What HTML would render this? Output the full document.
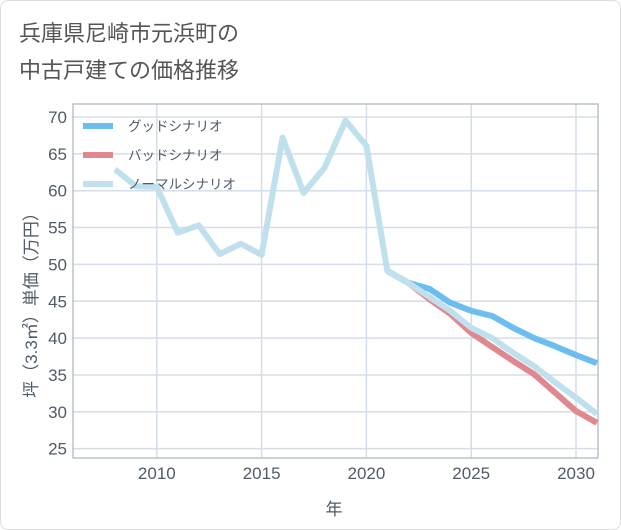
<!DOCTYPE html>
<html><head><meta charset="utf-8"><style>
body{margin:0;background:#fff;}
#card{position:relative;width:619px;height:528px;border:1px solid #ddd;border-radius:8px;background:#fff;overflow:hidden;font-family:"Liberation Sans","Noto Sans CJK JP",sans-serif;}
#title{position:absolute;left:18px;top:14px;font-size:22px;line-height:37px;color:#555;}
svg{position:absolute;left:0;top:0;}
</style></head><body>
<div id="card">
<div id="title">兵庫県尼崎市元浜町の<br>中古戸建ての価格推移</div>
<svg id="chart" width="621" height="530"></svg>
</div>
<script>
const years=[2008,2009,2010,2011,2012,2013,2014,2015,2016,2017,2018,2019,2020,2021,2022,2023,2024,2025,2026,2027,2028,2029,2030,2031];
const normalVals=[62.9,60.6,60.5,54.3,55.3,51.4,52.8,51.3,67.2,59.7,63.1,69.5,66.1,49.1,47.5,45.6,43.7,41.4,40.0,38.0,36.2,34.0,31.9,29.7];
const futureYears=[2021,2022,2023,2024,2025,2026,2027,2028,2029,2030,2031];
const goodVals=[49.1,47.5,46.7,44.8,43.7,43.0,41.4,40.0,38.9,37.7,36.6];
const badVals=[49.1,47.5,45.3,43.3,40.7,38.8,36.9,35.1,32.6,30.1,28.5];
const yTicks=[25,30,35,40,45,50,55,60,65,70];
const xTicks=[2010,2015,2020,2025,2030];
const legendLabels=["グッドシナリオ","バッドシナリオ","ノーマルシナリオ"];
const NS="http://www.w3.org/2000/svg";
const L=72,R=597,T=103,B=457;
const TXT='#4f5b69';
const xs=y=>L+(y-2006)*(R-L)/25.05;
const ys=v=>116+(70-v)*7.37;
const svg=document.getElementById('chart');
function mk(t,a){const e=document.createElementNS(NS,t);for(const k in a)e.setAttribute(k,a[k]);svg.appendChild(e);return e;}
yTicks.forEach(v=>{
 const l=mk('line',{x1:L,x2:R,y1:ys(v),y2:ys(v),stroke:'#d5dde8','stroke-width':1.5});
 
 
 const t=mk('text',{x:66,y:ys(v)+6,'text-anchor':'end','font-size':17,fill:TXT});
 t.textContent=v;
 
 
});
xTicks.forEach(v=>{
 const l=mk('line',{x1:xs(v),x2:xs(v),y1:T,y2:B,stroke:'#d5dde8','stroke-width':1.5});
 
 
 const t=mk('text',{x:xs(v),y:478,'text-anchor':'middle','font-size':17,fill:TXT});
 t.textContent=v;
 
 
});
const fr=mk('rect',{x:L,y:T,width:R-L,height:B-T,fill:'none',stroke:'#aab4c0','stroke-width':1.2});


function line(xv,yv,color,name){
 const p=mk('polyline',{points:xv.map((x,i)=>xs(x)+','+ys(yv[i])).join(' '),fill:'none',stroke:color,'stroke-width':6,'stroke-linejoin':'round'});
 
 
}
line(futureYears,goodVals,'#6cbdf0','good-scenario-line');
line(futureYears,badVals,'#e0888f','bad-scenario-line');
line(years,normalVals,'#bfe0ec','normal-scenario-line');
const cols=['#6cbdf0','#e0888f','#bfe0ec'];
legendLabels.forEach((s,i)=>{
 const y=125+i*29;
 const l=mk('line',{x1:82,x2:112,y1:y,y2:y,stroke:cols[i],'stroke-width':6});
 
 
 const t=mk('text',{x:127,y:y+5,'font-size':13.5,fill:TXT});
 t.textContent=s;
 
 
});
const xt=mk('text',{x:333,y:514,'text-anchor':'middle','font-size':17,fill:TXT});
xt.textContent='年';


const yt=mk('text',{x:0,y:0,'text-anchor':'middle','font-size':17,fill:TXT,transform:'translate(36,300) rotate(-90)'});
yt.textContent='坪（3.3㎡）単価（万円）';


</script>
</body></html>
